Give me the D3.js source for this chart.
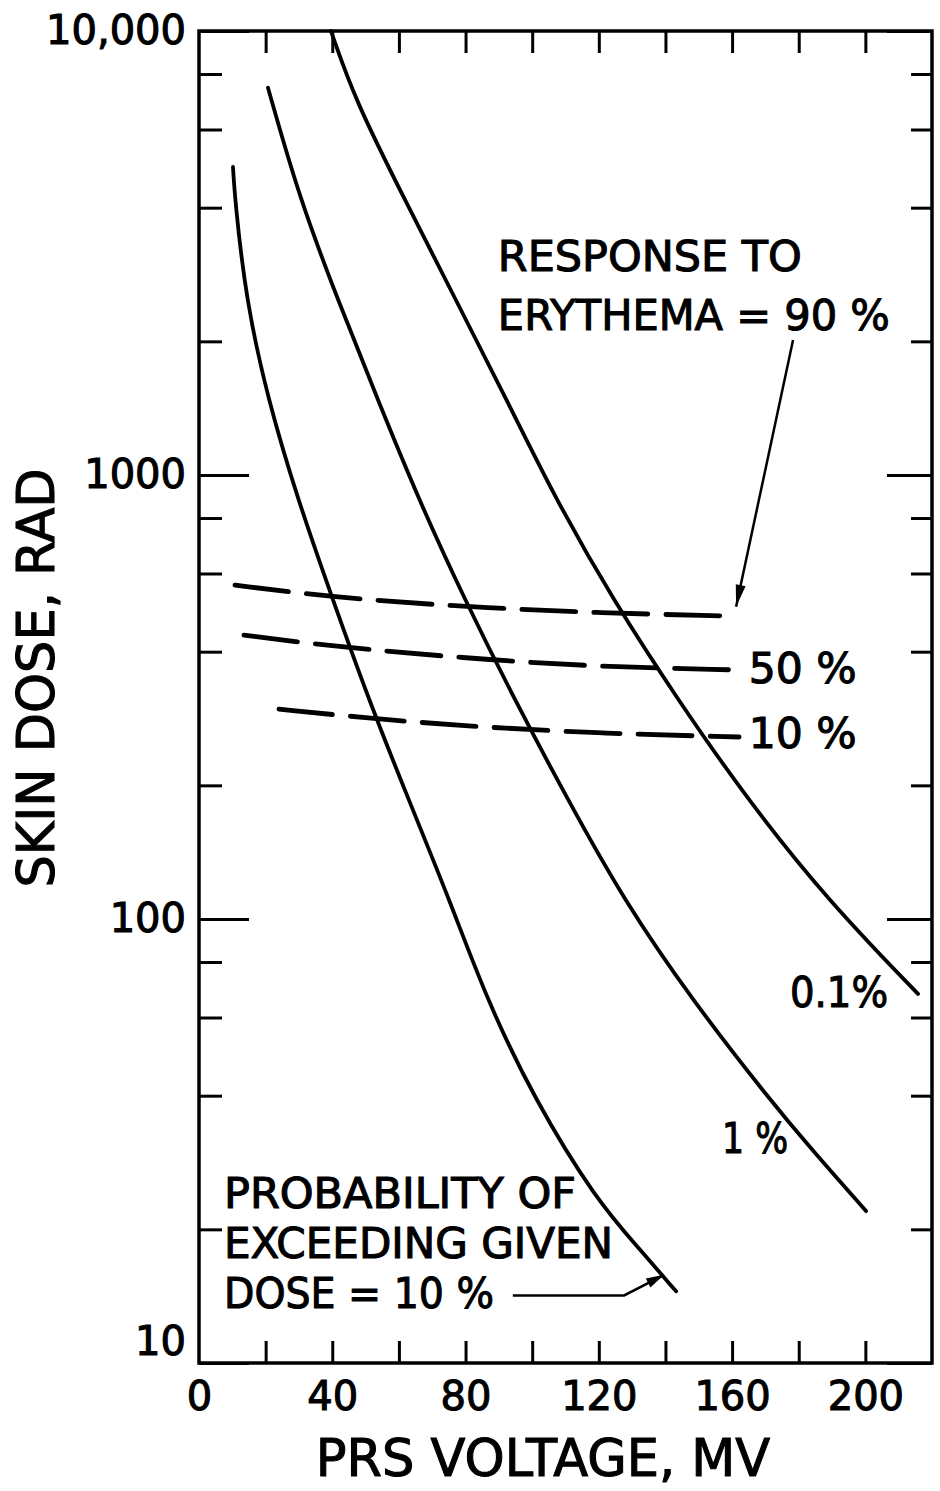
<!DOCTYPE html>
<html>
<head>
<meta charset="utf-8">
<script src="https://cdn.jsdelivr.net/npm/d3@7"></script>
<style>
  html, body { margin: 0; padding: 0; background: #fff; }
  svg { display: block; }
  text { font-family: "DejaVu Sans", sans-serif; fill: #000; stroke: #000; stroke-width: 1.1px; }
</style>
</head>
<body>
<svg id="chart" width="940" height="1491"></svg>
<script>
// Probability of exceeding a given skin dose: voltage (MV) vs dose (rad)
const voltageP10 = [10.2, 10.8, 14.1, 20.7, 29.7, 40.2, 51.0, 63.0, 75.3, 86.4, 100.8, 119.2, 132.4, 143.2];
const doseP10    = [4940, 4164, 2478, 1475, 878, 523, 311, 185, 110, 65.7, 39.1, 23.3, 18.0, 14.5];

const voltageP1  = [20.7, 30.3, 41.7, 53.7, 66.0, 79.8, 94.8, 110.8, 127.6, 148.0, 171.4, 184.0, 200.2];
const doseP1     = [7450, 4164, 2478, 1475, 878, 523, 311, 185, 110, 65.7, 39.1, 30.2, 22.0];

const voltageP01 = [39.6, 46.8, 61.8, 77.1, 92.4, 107.2, 124.3, 143.8, 164.8, 188.8, 215.8];
const doseP01    = [10000, 6993, 4164, 2478, 1475, 878, 523, 311, 185, 110, 67.8];

// Dose producing erythema in a given fraction of exposed skin
const voltageE90 = [10.8, 39.0, 79.2, 119.1, 160.6];
const doseE90    = [565, 531, 505, 489, 481];
const voltageE50 = [13.5, 39.0, 79.2, 119.1, 160.6];
const doseE50    = [436, 412, 387, 370, 364];
const voltageE10 = [24.0, 49.2, 79.2, 119.1, 162.1];
const doseE10    = [297, 284, 272, 262, 257];

// Axis ticks
const xTicks      = [20, 40, 60, 80, 100, 120, 140, 160, 180, 200];
const xTickLabels = [0, 40, 80, 120, 160, 200];
const yMajorTicks = [10, 100, 1000, 10000];
const yMajorLabels = ["10", "100", "1000", "10,000"];
const yMinorTicks = [20, 40, 60, 80, 200, 400, 600, 800, 2000, 4000, 6000, 8000];

const svg = d3.select("#chart");
const plotLeft = 199, plotRight = 932, plotTop = 31, plotBottom = 1363;

const x = d3.scaleLinear().domain([0, 220]).range([plotLeft, plotRight]);
const y = d3.scaleLog().domain([10, 10000]).range([plotBottom, plotTop]);

const INK = "#000";

// Frame
svg.append("rect")
  .attr("x", plotLeft).attr("y", plotTop)
  .attr("width", plotRight - plotLeft).attr("height", plotBottom - plotTop)
  .attr("fill", "none").attr("stroke", INK).attr("stroke-width", 3.5);

function styleAxis(g) {
  g.select(".domain").remove();
  g.selectAll(".tick line").attr("stroke", INK).attr("stroke-width", 3);
  g.selectAll(".tick text")
    .attr("fill", INK)
    .style("font-family", '"DejaVu Sans", sans-serif')
    .style("font-size", "40px");
}

// Bottom axis: inward ticks every 20 MV, labels every 40 MV
svg.append("g")
  .attr("transform", `translate(0,${plotBottom})`)
  .call(d3.axisBottom(x).tickValues(xTicks).tickSizeInner(-22).tickSizeOuter(0).tickFormat(""))
  .call(styleAxis);

svg.append("g")
  .attr("transform", `translate(0,${plotBottom})`)
  .call(d3.axisBottom(x).tickValues(xTickLabels).tickSize(0).tickPadding(19).tickFormat(d3.format("d")))
  .call(styleAxis);

// Top axis
svg.append("g")
  .attr("transform", `translate(0,${plotTop})`)
  .call(d3.axisTop(x).tickValues(xTicks).tickSizeInner(-22).tickSizeOuter(0).tickFormat(""))
  .call(styleAxis);

// Left axis: long decade ticks, short ticks at 2, 4, 6, 8
const leftMajor = svg.append("g")
  .attr("transform", `translate(${plotLeft},0)`)
  .call(d3.axisLeft(y).tickValues(yMajorTicks).tickSizeInner(-50).tickSizeOuter(0).tickPadding(13)
    .tickFormat((d, i) => yMajorLabels[i]))
  .call(styleAxis);
leftMajor.selectAll(".tick text")
  .filter(d => d === 10)
  .attr("dy", "-0.22em");

svg.append("g")
  .attr("transform", `translate(${plotLeft},0)`)
  .call(d3.axisLeft(y).tickValues(yMinorTicks).tickSizeInner(-23).tickSizeOuter(0).tickFormat(""))
  .call(styleAxis);

// Right axis
svg.append("g")
  .attr("transform", `translate(${plotRight},0)`)
  .call(d3.axisRight(y).tickValues(yMajorTicks).tickSizeInner(-45).tickSizeOuter(0).tickFormat(""))
  .call(styleAxis);
svg.append("g")
  .attr("transform", `translate(${plotRight},0)`)
  .call(d3.axisRight(y).tickValues(yMinorTicks).tickSizeInner(-21).tickSizeOuter(0).tickFormat(""))
  .call(styleAxis);

// Axis titles
svg.append("text")
  .attr("x", 543).attr("y", 1476)
  .attr("text-anchor", "middle")
  .style("font-size", "51px")
  .text("PRS VOLTAGE, MV");

svg.append("text")
  .attr("transform", "translate(54,678) rotate(-90)")
  .attr("text-anchor", "middle")
  .style("font-size", "51px")
  .text("SKIN DOSE, RAD");

// Curves
const line = d3.line()
  .x(d => x(d[0]))
  .y(d => y(d[1]))
  .curve(d3.curveBasis);

const solidCurves = [
  d3.zip(voltageP10, doseP10),
  d3.zip(voltageP1, doseP1),
  d3.zip(voltageP01, doseP01)
];
svg.append("g").selectAll("path")
  .data(solidCurves)
  .join("path")
  .attr("d", line)
  .attr("fill", "none")
  .attr("stroke", INK)
  .attr("stroke-width", 3.8)
  .attr("stroke-linecap", "round");

const dashedCurves = [
  d3.zip(voltageE90, doseE90),
  d3.zip(voltageE50, doseE50),
  d3.zip(voltageE10, doseE10)
];
svg.append("g").selectAll("path")
  .data(dashedCurves)
  .join("path")
  .attr("d", line)
  .attr("fill", "none")
  .attr("stroke", INK)
  .attr("stroke-width", 4.8)
  .attr("stroke-linecap", "round")
  .attr("stroke-dasharray", "54,18");

// Annotations
function label(text, xv, yv, width) {
  const t = svg.append("text")
    .attr("x", x(xv)).attr("y", y(yv))
    .style("font-size", "43px")
    .text(text);
  if (width) t.attr("textLength", width).attr("lengthAdjust", "spacingAndGlyphs");
  return t;
}

label("RESPONSE TO", 89.7, 2877, 304);
label("ERYTHEMA = 90 %", 89.7, 2123, 392);
label("50 %", 165, 340, 108);
label("10 %", 165, 243, 108);
label("0.1%", 177.4, 63.4, 98);
label("1 %", 157, 29.7, 66);
label("PROBABILITY OF", 7.5, 22.3, 352);
label("EXCEEDING GIVEN", 7.5, 17.2, 389);
label("DOSE = 10 %", 7.5, 13.3, 270);

// Leader arrows
function arrowHead(x0, y0, x1, y1, len, half) {
  const a = Math.atan2(y1 - y0, x1 - x0);
  const bx = x1 - len * Math.cos(a), by = y1 - len * Math.sin(a);
  const nx = -Math.sin(a) * half, ny = Math.cos(a) * half;
  svg.append("path")
    .attr("d", `M${x1},${y1}L${bx + nx},${by + ny}L${bx - nx},${by - ny}Z`)
    .attr("fill", INK);
}

// Erythema label arrow
const a1 = [x(178.3), y(2014)], a2 = [x(161.2), y(505)];
svg.append("line")
  .attr("x1", a1[0]).attr("y1", a1[1]).attr("x2", a2[0]).attr("y2", a2[1])
  .attr("stroke", INK).attr("stroke-width", 2.5);
arrowHead(a1[0], a1[1], a2[0], a2[1], 22, 5);

// Probability label arrow
const b1 = [x(94.2), y(14.2)], b2 = [x(127.6), y(14.2)], b3 = [x(139.6), y(15.8)];
svg.append("path")
  .attr("d", `M${b1[0]},${b1[1]}L${b2[0]},${b2[1]}L${b3[0]},${b3[1]}`)
  .attr("fill", "none").attr("stroke", INK).attr("stroke-width", 2.5);
arrowHead(b2[0], b2[1], b3[0], b3[1], 18, 5);
</script>
</body>
</html>
